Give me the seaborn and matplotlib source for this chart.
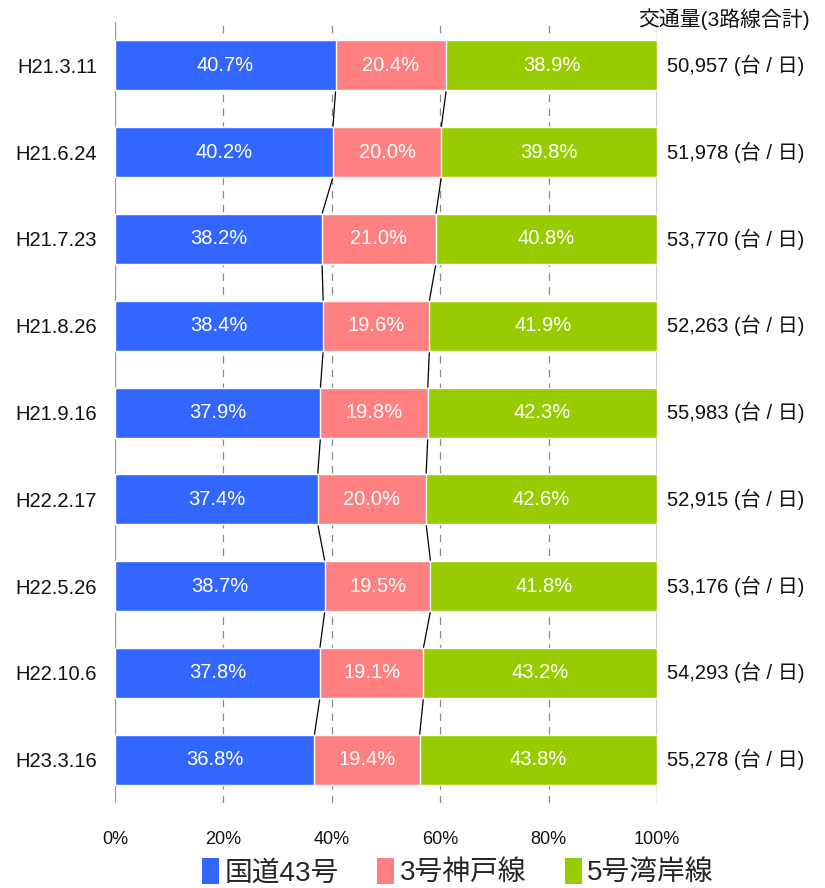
import numpy as np
import matplotlib.pyplot as plt
import seaborn as sns
from matplotlib.patches import Patch
from matplotlib import font_manager

sns.set_theme(style="white")
installed = {f.name for f in font_manager.fontManager.ttflist}
latin = 'Liberation Sans Narrow' if 'Liberation Sans Narrow' in installed else 'Liberation Sans'
plt.rcParams['font.family'] = [latin, 'Noto Sans CJK JP', 'DejaVu Sans']
narrow = latin == 'Liberation Sans Narrow'

# data
dates = ['H21.3.11', 'H21.6.24', 'H21.7.23', 'H21.8.26', 'H21.9.16',
         'H22.2.17', 'H22.5.26', 'H22.10.6', 'H23.3.16']
route43 = [40.7, 40.2, 38.2, 38.4, 37.9, 37.4, 38.7, 37.8, 36.8]
kobe3 = [20.4, 20.0, 21.0, 19.6, 19.8, 20.0, 19.5, 19.1, 19.4]
wangan5 = [38.9, 39.8, 40.8, 41.9, 42.3, 42.6, 41.8, 43.2, 43.8]
totals = [50957, 51978, 53770, 52263, 55983, 52915, 53176, 54293, 55278]
series_names = ['国道43号', '3号神戸線', '5号湾岸線']
colors = ['#3366FF', '#FF8080', '#99CC00']

fs_lab = 17 if narrow else 14.5
fs_tick = 15 if narrow else 13

fig = plt.figure(figsize=(8.25, 8.88), dpi=100)
ax = fig.add_axes([0.1394, 0.0957, 0.657, 0.8795])

b = np.array(route43)
p = np.array(kobe3)
g = np.array(wangan5)
cum1 = b
cum2 = b + p
cum3 = np.full(len(dates), 100.0)

bar_h = 0.576
# draw stacked bars back to front
for vals, col in [(cum3, colors[2]), (cum2, colors[1]), (cum1, colors[0])]:
    sns.barplot(x=vals, y=dates, orient='h', color=col, width=bar_h,
                saturation=1, ax=ax, zorder=3)

# grid lines
for xv in [20, 40, 60, 80]:
    ax.axvline(xv, color='#888888', lw=0.9, ls=(0, (6, 5)), zorder=1)
for xv in [0, 100]:
    ax.axvline(xv, color='#999999', lw=1.0, zorder=1)

# series lines between bars
for cum in [cum1, cum2, cum3]:
    for i in range(len(dates) - 1):
        ax.plot([cum[i], cum[i + 1]], [i + bar_h / 2, i + 1 - bar_h / 2],
                color='black', lw=0.9, zorder=2)

# value labels
for i in range(len(dates)):
    ax.text(b[i] / 2, i, f'{b[i]:.1f}%', ha='center', va='center',
            color='white', fontsize=fs_lab, zorder=5)
    ax.text(b[i] + p[i] / 2, i, f'{p[i]:.1f}%', ha='center', va='center',
            color='white', fontsize=fs_lab, zorder=5)
    ax.text(b[i] + p[i] + (100 - b[i] - p[i]) / 2, i, f'{g[i]:.1f}%',
            ha='center', va='center', color='white', fontsize=fs_lab, zorder=5)
    ax.text(101.8, i, f'{totals[i]:,} (台 / 日)', ha='left', va='center',
            color='#111111', fontsize=fs_lab, clip_on=False)

fig.text(0.982, 0.978, '交通量(3路線合計)', ha='right', va='center',
         fontsize=fs_lab + 0.5, color='#111111')

ax.set_xlim(0, 100)
ax.set_ylim(len(dates) - 0.5, -0.5)
ax.set_xticks([0, 20, 40, 60, 80, 100])
ax.set_xticklabels([f'{v}%' for v in [0, 20, 40, 60, 80, 100]], fontsize=fs_tick)
ax.tick_params(axis='x', length=0, pad=20, colors='#111111')
ax.tick_params(axis='y', length=0, pad=13, labelsize=fs_lab, colors='#111111')
ax.set_xlabel('')
ax.set_ylabel('')
for s in ax.spines.values():
    s.set_visible(False)

handles = [Patch(facecolor=c, edgecolor='none') for c in colors]
fig.legend(handles, series_names, loc='center', bbox_to_anchor=(0.555, 0.018),
           ncol=3, frameon=False, fontsize=20, handlelength=0.6,
           handleheight=1.1, handletextpad=0.2, columnspacing=1.4,
           borderpad=0.1)

fig.savefig('out.png', dpi=100)
